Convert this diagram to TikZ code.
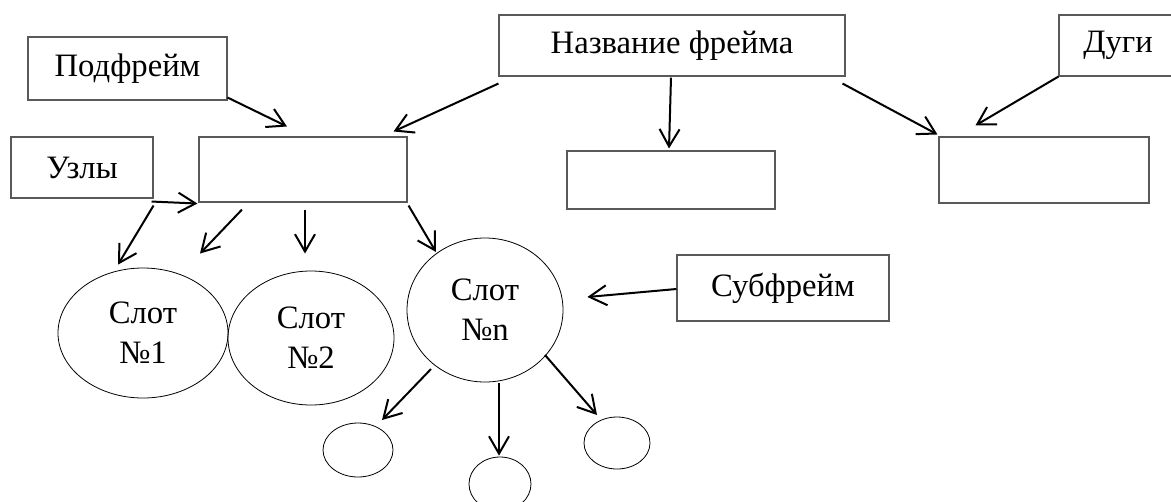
\documentclass[tikz,border=0pt]{standalone}
\usepackage{fontspec}
\setmainfont{Liberation Serif}
\usetikzlibrary{arrows.meta,calc,shapes.geometric}
\begin{document}
\begin{tikzpicture}[x=0.75pt,y=-0.75pt,
  box/.style={draw=black!65,line width=0.8pt,rectangle,inner sep=0pt,
    font=\fontsize{24.5}{30}\selectfont},
  slot/.style={draw=black,line width=0.6pt,ellipse,inner sep=0pt,align=center,
    font=\fontsize{24.5}{30}\selectfont},
  arr/.style={line width=1.5pt,-{Straight Barb[length=13pt,width=15pt,line width=1.5pt]}}]
\clip (0,0) rectangle (1171,501);
% boxes
\node[box,minimum width=199*0.75pt,minimum height=63*0.75pt] (podf) at (127.5,68.5) {\raisebox{-2pt}{Подфрейм}};
\node[box,minimum width=142*0.75pt,minimum height=61*0.75pt] (uzly) at (82,167.5) {\raisebox{-2pt}{Узлы}};
\node[box,minimum width=208*0.75pt,minimum height=65*0.75pt] (frame) at (303,169.5) {};
\node[box,minimum width=346*0.75pt,minimum height=61*0.75pt] (nazv) at (672,45.5) {\raisebox{-2pt}{Название фрейма}};
\node[box,minimum width=208*0.75pt,minimum height=58*0.75pt] (mid) at (671,180) {};
\node[box,minimum width=210*0.75pt,minimum height=66*0.75pt] (rbox) at (1044,170) {};
\node[box,minimum width=118*0.75pt,minimum height=61*0.75pt] (dugi) at (1118,45.5) {\raisebox{-2pt}{Дуги}};
\node[box,minimum width=212*0.75pt,minimum height=66*0.75pt] (subf) at (783,288) {\raisebox{-2pt}{Субфрейм}};
% ellipses
\node[slot,minimum width=170*0.75pt,minimum height=130*0.75pt] (s1) at (143,333) {Слот\\№1};
\node[slot,minimum width=166*0.75pt,minimum height=134*0.75pt] (s2) at (311,338) {Слот\\№2};
\node[slot,minimum width=156*0.75pt,minimum height=144*0.75pt] (sn) at (485,310) {Слот\\№n};
\node[slot,minimum width=70*0.75pt,minimum height=54*0.75pt] (e1) at (358,450) {};
\node[slot,minimum width=62*0.75pt,minimum height=54*0.75pt] (e2) at (500,484) {};
\node[slot,minimum width=66*0.75pt,minimum height=52*0.75pt] (e3) at (617,443) {};
% arrows
\draw[arr] ($(podf.south east)+(0,-3)$) -- ($(frame.north)+(-16,-10)$);
\draw[arr] ($(nazv.south west)+(0,7)$) -- ($(frame.north east)+(-14,-5)$);
\draw[arr] ($(nazv.south)+(-1,1)$) -- ($(mid.north)+(-2,-2)$);
\draw[arr] ($(nazv.south east)+(-3,7)$) -- ($(rbox.north west)+(-1,-2)$);
\draw[arr] (dugi.south west) -- ($(rbox.north west)+(37,-11)$);
\draw[arr] ($(uzly.south east)+(-2,3)$) -- ($(frame.south west)+(-1,1)$);
\draw[arr] ($(uzly.south east)+(0,7)$) -- ($(s1.north)+(-25,-3)$);
\draw[arr] ($(frame.south)+(-61,7)$) -- ($(frame.south)+(-103,51)$);
\draw[arr] ($(frame.south)+(2,7)$) -- ($(frame.south)+(2,51)$);
\draw[arr] ($(frame.south east)+(1,3)$) -- ($(sn.center)+(-49,-58)$);
\draw[arr] ($(subf.west)+(0,1)$) -- ($(sn.east)+(24,-13)$);
\draw[arr] ($(sn.center)+(-54,59)$) -- ($(e1.center)+(24,-30)$);
\draw[arr] ($(sn.south)+(14,1)$) -- ($(e2.north)+(-1,-1)$);
\draw[arr] ($(sn.center)+(60,45)$) -- ($(e3.center)+(-20,-28)$);
\end{tikzpicture}
\end{document}
